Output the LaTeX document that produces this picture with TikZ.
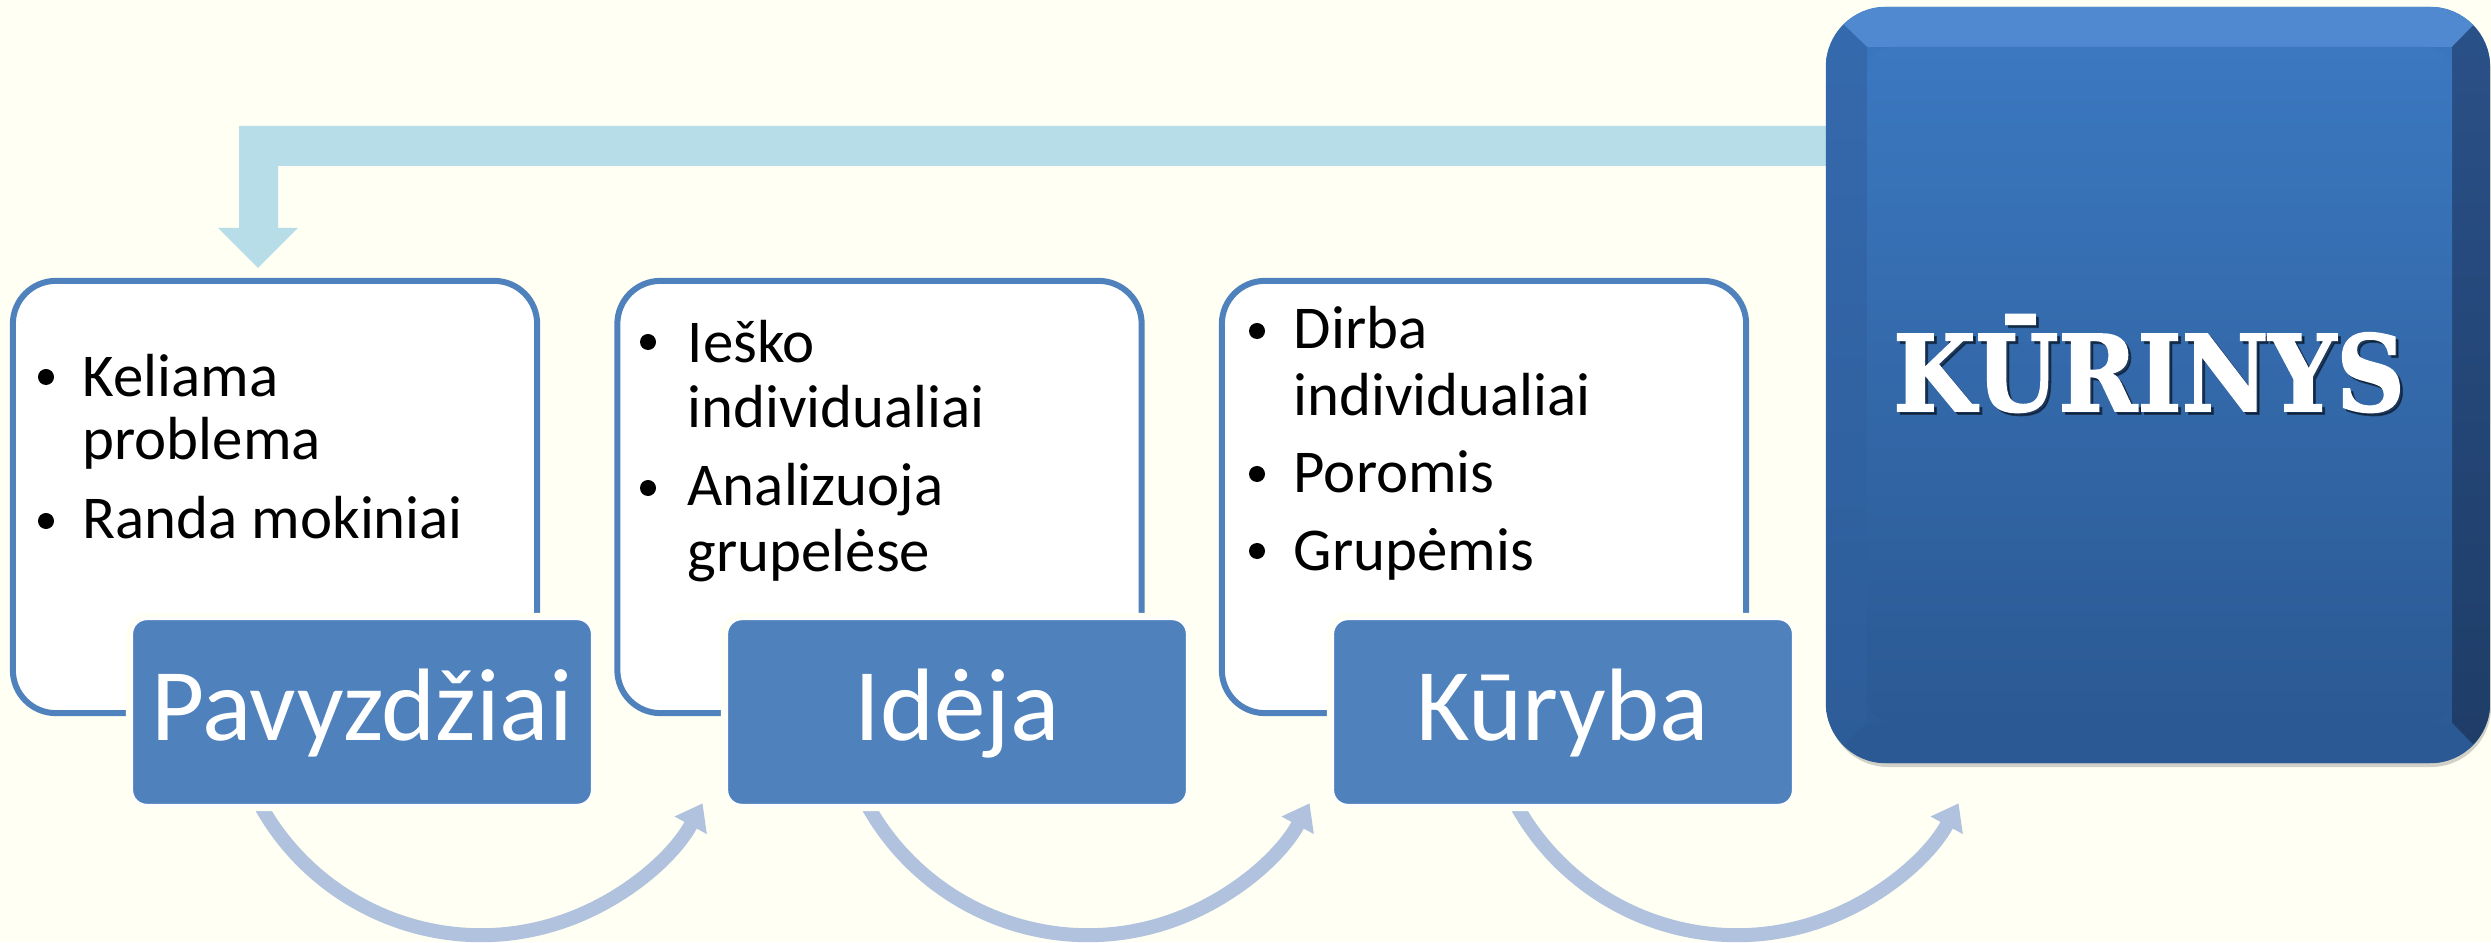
\documentclass[tikz,border=0pt]{standalone}
\usepackage{fontspec}
\setmainfont{Carlito}
\newfontfamily\kfont{DejaVu Serif Bold}[FakeBold=1.6]
\usetikzlibrary{arrows.meta}
\definecolor{bg}{HTML}{FFFFF3}
\definecolor{accent}{HTML}{4F81BD}
\definecolor{feedback}{HTML}{B7DDE8}
\definecolor{arcc}{HTML}{B0C2DE}
\definecolor{ktop}{HTML}{3B78C0}
\definecolor{kbot}{HTML}{2B5993}
\definecolor{bevtop}{HTML}{5089D0}
\definecolor{bevlefttop}{HTML}{356AAE}
\definecolor{bevleftbot}{HTML}{2D5C98}
\definecolor{bevrighttop}{HTML}{2A5189}
\definecolor{bevrightbot}{HTML}{1E3C66}
\definecolor{bevbot}{HTML}{2B5993}
\tikzset{
  textbox/.style={draw=accent, fill=white, line width=0.06cm, rounded corners=0.43cm,
    minimum width=5.24cm, minimum height=4.32cm, inner sep=0},
  labelbox/.style={preaction={draw=bg, line width=0.12cm}, fill=accent, draw=white,
    line width=0.025cm, rounded corners=0.15cm, minimum width=4.6cm, minimum height=1.86cm, inner sep=0},
  labtxt/.style={text=white, anchor=base, inner sep=0, font=\fontsize{29.3}{35}\selectfont},
  itemtxt/.style={anchor=base west, inner sep=0, text=black, font=\fontsize{17.3}{20}\selectfont},
  bulletdot/.style={fill=black},
  arcarrow/.style={draw=arcc, line width=0.14cm, -{Triangle[length=0.25cm, width=0.35cm]}},
  kbox/.style={minimum width=6.64cm, minimum height=7.56cm, rounded corners=0.6cm, inner sep=0,
    top color=ktop, bottom color=kbot},
  kpanel/.style={minimum width=5.85cm, minimum height=6.76cm, rounded corners=0.28cm, inner sep=0,
    top color=ktop, bottom color=kbot},
  ktext/.style={anchor=base, inner sep=0, text=white, font=\kfont\fontsize{30}{35}\selectfont}
}
\newcommand{\kword}{\scalebox{0.9}[1]{KŪRINYS}}
\begin{document}
\begin{tikzpicture}[x=0.01cm, y=0.01cm]
\useasboundingbox (0,0) rectangle (2491,942);
\fill[bg] (0,0) rectangle (2491,942);

% feedback block arrow from the result back to the first step
\fill[feedback] (1850,816) -- (239,816) -- (239,714) -- (218,714) -- (258,674)
  -- (298,714) -- (278,714) -- (278,776) -- (1850,776) -- cycle;

% text boxes
\node[textbox] (B1) at (275,445) {};
\node[textbox] (B2) at (879.5,445) {};
\node[textbox] (B3) at (1484,445) {};

% curved arrows
\coordinate (c1) at (481,259);
\coordinate (c2) at (1088,259);
\coordinate (c3) at (1737,259);
\draw[arcarrow] (c1) ++(200:2.52cm) arc[start angle=200, end angle=331.5, radius=2.52cm];
\draw[arcarrow] (c2) ++(200:2.52cm) arc[start angle=200, end angle=331.5, radius=2.52cm];
\draw[arcarrow] (c3) ++(200:2.52cm) arc[start angle=200, end angle=331.5, radius=2.52cm];

% labels
\node[labelbox] (L1) at (362,230) {};
\node[labelbox] (L2) at (957,230) {};
\node[labelbox] (L3) at (1563,230) {};
\node[labtxt] (L1t) at (362,202) {Pavyzdžiai};
\node[labtxt] (L2t) at (957,202) {Idėja};
\node[labtxt] (L3t) at (1563,202) {Kūryba};

% box 1 text
\fill[bulletdot] (46,565) circle[radius=0.08cm];
\fill[bulletdot] (46,421) circle[radius=0.08cm];
\node[itemtxt] (t1a) at (82,545) {Keliama};
\node[itemtxt] (t1b) at (82,482) {problema};
\node[itemtxt] (t1c) at (82,403) {Randa mokiniai};

% box 2 text
\fill[bulletdot] (648,600) circle[radius=0.08cm];
\fill[bulletdot] (648,454) circle[radius=0.08cm];
\node[itemtxt] (t2a) at (687,579) {Ieško};
\node[itemtxt] (t2b) at (687,514) {individualiai};
\node[itemtxt] (t2c) at (687,436) {Analizuoja};
\node[itemtxt] (t2d) at (687,370) {grupelėse};

% box 3 text
\fill[bulletdot] (1257,611) circle[radius=0.08cm];
\fill[bulletdot] (1257,468) circle[radius=0.08cm];
\fill[bulletdot] (1257,391) circle[radius=0.08cm];
\node[itemtxt] (t3a) at (1293,593) {Dirba};
\node[itemtxt] (t3b) at (1293,526) {individualiai};
\node[itemtxt] (t3c) at (1293,449) {Poromis};
\node[itemtxt] (t3d) at (1293,372) {Grupėmis};

% result box
\fill[black, opacity=0.18, rounded corners=0.6cm] (1828,175) rectangle (2491,930);
\node[kbox] (K) at (2158,557) {};
\begin{scope}
  \clip[rounded corners=0.6cm] (1826,179) rectangle (2490,935);
  \fill[bevtop] (1820,940) -- (2496,940) -- (2452,895) -- (1867,895) -- cycle;
  \shade[top color=bevlefttop, bottom color=bevleftbot] (1820,940) -- (1867,895) -- (1867,219) -- (1820,174) -- cycle;
  \shade[top color=bevrighttop, bottom color=bevrightbot] (2496,940) -- (2452,895) -- (2452,219) -- (2496,174) -- cycle;
  \fill[bevbot] (1820,174) -- (1867,219) -- (2452,219) -- (2496,174) -- cycle;
\end{scope}
\node[kpanel] (KP) at (2159.5,557) {};
\node[ktext, text=black, opacity=0.45] (KTs) at (2152,528) {\kword};
\node[ktext] (KT) at (2149,531) {\kword};
\end{tikzpicture}
\end{document}
